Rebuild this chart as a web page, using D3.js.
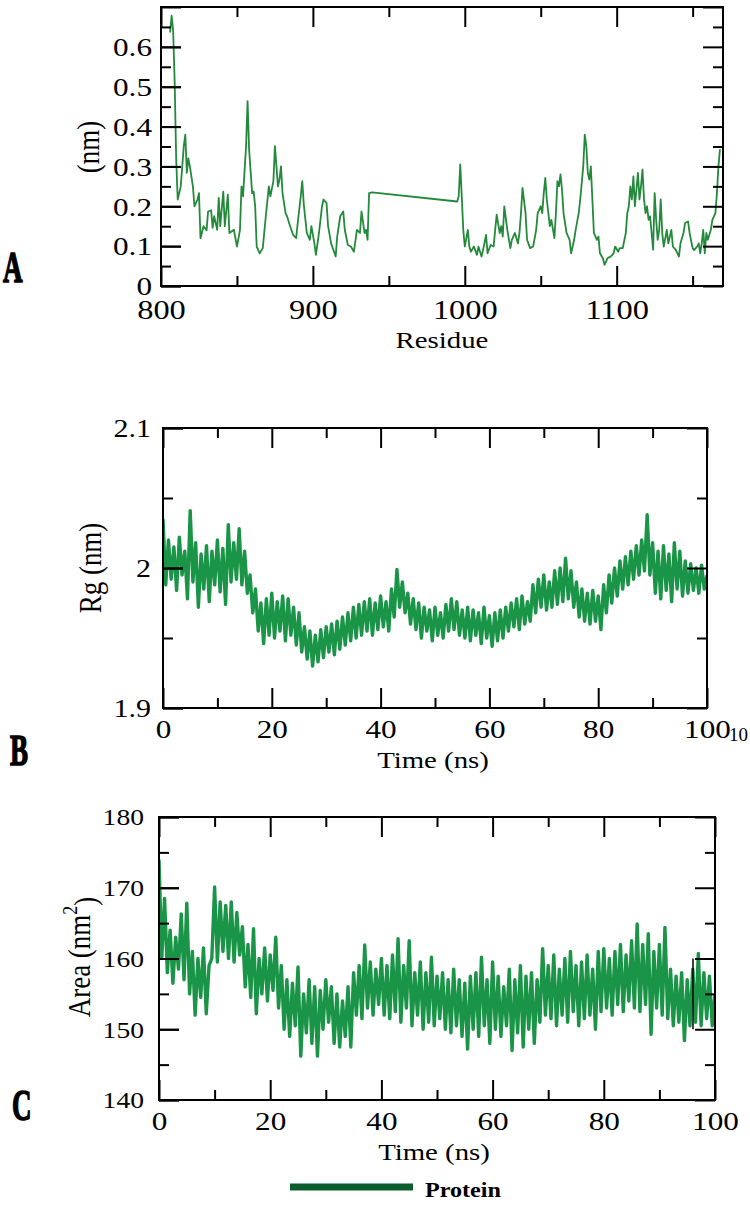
<!DOCTYPE html>
<html><head><meta charset="utf-8">
<script src="https://cdn.jsdelivr.net/npm/d3@7"></script>
<style>body{margin:0;background:#fff}svg{display:block}</style>
</head><body>
<svg id="chart" width="750" height="1208"></svg>
<script>
// ---------- DATA ----------
const rmsfResidue = [806,807,808,809,810,811,813,815,816,817,818,819,821,822,824,825,826,828,830,831,833,834,835,837,838,839,841,842,844,845,848,849,850,852,853,854,856,857,858,860,861,862,863,865,867,869,871,872,874,875,877,878,879,880,882,883,885,887,889,890,892,893,894,896,898,899,901,902,904,906,907,909,910,912,915,916,918,920,921,923,925,927,929,931,932,934,935,936,937,939,
995,996,997,998,999,1000,1002,1003,1004,1006,1008,1009,1011,1012,1014,1015,1017,1019,1020,1021,1023,1024,1025,1026,1028,1030,1031,1033,1035,1036,1037,1038,1040,1041,1043,1045,1047,1048,1050,1051,1052,1053,1054,1056,1057,1059,1060,1061,1062,1063,1064,1065,1067,1069,1070,1072,1073,1075,1076,1078,1079,1080,1081,1082,1083,1084,1085,1087,1088,1089,1091,1092,1094,1096,1098,1099,1101,1102,1104,1106,1107,1108,1109,1110,1111,1112,1114,1115,1116,1117,1118,1119,1120,1121,1122,1124,1125,1126,1127,1128,1129,1130,1131,1133,1134,1136,1137,1139,1141,1142,1144,1145,1147,1148,1150,1151,1153,1154,1155,1156,1157,1158,1159,1160,1162,1163,1165,1166,1167,1168];
const rmsfNm = [0.636,0.678,0.64,0.511,0.317,0.217,0.25,0.351,0.38,0.284,0.32,0.30,0.25,0.2,0.217,0.233,0.12,0.15,0.14,0.187,0.19,0.146,0.175,0.141,0.221,0.15,0.237,0.15,0.229,0.133,0.141,0.12,0.099,0.141,0.25,0.225,0.351,0.464,0.343,0.233,0.237,0.2,0.099,0.082,0.095,0.175,0.25,0.225,0.263,0.351,0.25,0.267,0.30,0.233,0.183,0.175,0.15,0.128,0.12,0.158,0.225,0.263,0.205,0.133,0.116,0.15,0.107,0.078,0.133,0.2,0.217,0.208,0.15,0.107,0.074,0.124,0.175,0.187,0.141,0.103,0.099,0.086,0.141,0.133,0.187,0.133,0.141,0.116,0.233,0.235,
0.212,0.225,0.305,0.225,0.141,0.099,0.141,0.099,0.086,0.099,0.078,0.099,0.074,0.09,0.128,0.082,0.103,0.099,0.141,0.179,0.133,0.15,0.124,0.2,0.141,0.095,0.116,0.133,0.107,0.133,0.183,0.246,0.183,0.116,0.095,0.099,0.141,0.183,0.2,0.183,0.233,0.271,0.217,0.15,0.166,0.12,0.183,0.263,0.25,0.28,0.242,0.183,0.133,0.116,0.082,0.116,0.141,0.183,0.217,0.30,0.38,0.351,0.284,0.267,0.30,0.217,0.133,0.116,0.124,0.082,0.069,0.053,0.07,0.074,0.082,0.099,0.086,0.095,0.095,0.133,0.183,0.2,0.25,0.217,0.275,0.2,0.284,0.217,0.25,0.292,0.217,0.183,0.2,0.166,0.175,0.091,0.233,0.166,0.116,0.141,0.217,0.133,0.099,0.141,0.107,0.141,0.099,0.09,0.074,0.107,0.133,0.158,0.162,0.133,0.095,0.09,0.099,0.107,0.082,0.107,0.141,0.082,0.133,0.116,0.141,0.166,0.183,0.233,0.30,0.343];

const timeStepNs = 0.5;
const rgNm = [2.035,1.988,2.020,1.992,2.015,1.984,2.022,1.995,2.012,1.978,2.041,1.990,2.018,1.972,2.010,1.985,2.016,1.976,2.012,1.988,
2.020,1.983,2.014,1.974,2.031,1.990,2.018,1.992,2.028,1.988,2.012,1.982,1.995,1.968,1.985,1.955,1.975,1.946,1.978,1.952,
1.982,1.950,1.976,1.955,1.980,1.948,1.978,1.952,1.972,1.945,1.968,1.940,1.958,1.935,1.955,1.930,1.952,1.933,1.956,1.936,
1.958,1.940,1.960,1.938,1.962,1.942,1.965,1.945,1.968,1.948,1.972,1.950,1.974,1.952,1.976,1.955,1.978,1.952,1.975,1.956,
1.980,1.958,1.976,1.955,1.985,1.965,1.999,1.972,1.990,1.968,1.982,1.960,1.978,1.956,1.975,1.950,1.972,1.955,1.970,1.948,
1.972,1.952,1.968,1.950,1.974,1.955,1.978,1.956,1.976,1.952,1.970,1.950,1.972,1.948,1.970,1.952,1.968,1.946,1.972,1.950,
1.966,1.944,1.968,1.948,1.970,1.950,1.972,1.955,1.975,1.958,1.978,1.956,1.980,1.960,1.976,1.962,1.988,1.968,1.992,1.972,
1.995,1.970,1.990,1.972,1.998,1.974,2.000,1.976,2.007,1.978,1.998,1.972,1.990,1.965,1.985,1.962,1.982,1.960,1.984,1.962,
1.980,1.956,1.988,1.968,1.995,1.975,2.000,1.980,2.005,1.985,2.008,1.988,2.012,1.992,2.016,1.995,2.020,1.998,2.038,1.995,
2.018,1.982,2.012,1.978,2.016,1.984,2.010,1.976,2.018,1.985,2.012,1.980,2.005,1.982,2.003,1.984,2.000,1.982,2.002,1.985,
1.995];
const areaNm2 = [174.0,160.0,168.5,158.0,164.0,156.5,163.0,158.5,166.3,157.0,167.8,155.0,161.0,152.0,160.0,154.5,161.5,152.2,159.0,160.0,
170.1,159.5,168.0,161.0,167.5,160.0,168.0,159.5,166.5,160.5,164.5,156.0,162.0,154.5,164.2,152.2,160.0,155.0,161.5,154.0,
160.5,155.5,163.0,153.0,159.0,150.0,157.0,149.0,156.5,150.5,158.8,146.2,155.0,149.5,157.0,148.0,156.0,146.2,155.5,150.0,
157.0,151.0,156.0,148.0,155.0,147.5,154.0,149.0,156.0,147.5,158.0,152.0,159.0,151.5,161.9,153.0,159.5,152.0,158.5,153.5,
160.0,152.0,159.0,151.5,160.5,152.5,162.8,151.0,159.0,153.0,162.5,150.5,158.0,152.0,159.5,150.0,158.0,151.0,160.2,150.5,
157.5,151.5,158.0,150.0,157.0,149.5,158.5,150.5,157.0,149.0,156.5,147.2,157.5,150.0,158.0,149.0,160.2,150.5,157.0,148.0,
159.5,150.0,157.5,149.0,156.0,150.5,158.5,147.0,157.0,149.5,159.0,147.5,157.5,150.0,158.0,148.0,157.0,151.0,161.4,152.0,
159.0,151.5,160.5,150.5,158.5,152.0,160.0,151.0,161.0,152.5,159.0,150.5,159.5,151.5,160.5,152.0,158.5,150.0,161.0,152.5,
161.4,153.0,160.0,152.0,161.0,153.5,162.0,152.5,160.5,154.0,162.5,153.0,164.9,152.5,162.0,153.5,163.5,149.3,161.0,153.0,
162.0,152.0,164.4,151.5,158.5,150.5,157.5,151.0,158.0,148.4,157.0,150.5,158.5,151.0,160.7,150.5,158.0,151.5,157.5,150.5,
155.0];

const rmsfXMajor = [800,900,1000,1100], rmsfXMinor = [850,950,1050,1150];
const rmsfYMajor = [0,0.1,0.2,0.3,0.4,0.5,0.6,0.7], rmsfYMinor = [0.05,0.15,0.25,0.35,0.45,0.55,0.65];
const rmsfYLabels = [0,0.1,0.2,0.3,0.4,0.5,0.6];
const timeMajor = [0,20,40,60,80,100], timeMinor = [10,30,50,70,90];
const rgYMajor = [1.9,2.0,2.1], rgYMinor = [1.95,2.05];
const areaYMajor = [140,150,160,170,180], areaYMinor = [145,155,165,175];
const legendLabel = "Protein";

// ---------- DRAWING ----------
const svg = d3.select("#chart");
const SERIF = "Liberation Serif, Times New Roman, serif";
const SX = 1.2;

function panel(cfg) {
  const g = svg.append("g");
  const x = d3.scaleLinear().domain(cfg.xDomain).range([cfg.L, cfg.R]);
  const y = d3.scaleLinear().domain(cfg.yDomain).range([cfg.B, cfg.T]);
  const id = "clip" + cfg.name;
  svg.append("clipPath").attr("id", id).append("rect")
    .attr("x", cfg.L).attr("y", cfg.T).attr("width", cfg.R - cfg.L).attr("height", cfg.B - cfg.T);
  const pts = cfg.xs.map((d, i) => [d, cfg.ys[i]]);
  g.append("path").datum(pts)
    .attr("clip-path", `url(#${id})`)
    .attr("fill", "none").attr("stroke", cfg.color).attr("stroke-width", cfg.lw)
    .attr("stroke-linejoin", "round")
    .attr("d", d3.line().x(d => x(d[0])).y(d => y(d[1])));

  const MAJ = 20, MIN = 10;
  function addAxis(axis, tr) {
    const a = g.append("g").attr("transform", tr).call(axis);
    a.select(".domain").remove();
    a.selectAll(".tick line").attr("stroke", "#000").attr("stroke-width", 2);
    return a;
  }
  const bx = addAxis(d3.axisBottom(x).tickValues(cfg.xMajor).tickSize(-MAJ).tickPadding(0).tickFormat(d3.format("d")), `translate(0,${cfg.B})`);
  bx.selectAll(".tick text").attr("y", cfg.xLabelY).attr("dy", null)
    .style("font-family", SERIF).style("font-size", cfg.xFont + "px").attr("fill", "#000")
    .attr("transform", `scale(${SX},1)`);
  addAxis(d3.axisBottom(x).tickValues(cfg.xMinor).tickSize(-MIN).tickFormat(""), `translate(0,${cfg.B})`);
  addAxis(d3.axisTop(x).tickValues(cfg.xMajor).tickSize(-MAJ).tickFormat(""), `translate(0,${cfg.T})`);
  addAxis(d3.axisTop(x).tickValues(cfg.xMinor).tickSize(-MIN).tickFormat(""), `translate(0,${cfg.T})`);
  const ly = addAxis(d3.axisLeft(y).tickValues(cfg.yLabels).tickSize(-MAJ).tickPadding(0).tickFormat(d3.format("~g")), `translate(${cfg.L},0)`);
  ly.selectAll(".tick text").attr("x", -cfg.yLabelGap / SX).attr("dy", "0.34em")
    .style("font-family", SERIF).style("font-size", cfg.yFont + "px").attr("fill", "#000")
    .attr("transform", `scale(${SX},1)`);
  addAxis(d3.axisLeft(y).tickValues(cfg.yMajor).tickSize(-MAJ).tickFormat(""), `translate(${cfg.L},0)`);
  addAxis(d3.axisLeft(y).tickValues(cfg.yMinor).tickSize(-MIN).tickFormat(""), `translate(${cfg.L},0)`);
  addAxis(d3.axisRight(y).tickValues(cfg.yMajor).tickSize(-MAJ).tickFormat(""), `translate(${cfg.R},0)`);
  addAxis(d3.axisRight(y).tickValues(cfg.yMinor).tickSize(-MIN).tickFormat(""), `translate(${cfg.R},0)`);

  g.append("rect").attr("x", cfg.L).attr("y", cfg.T).attr("width", cfg.R - cfg.L).attr("height", cfg.B - cfg.T)
    .attr("fill", "none").attr("stroke", "#000").attr("stroke-width", 2);

  g.append("text").attr("transform", `translate(${cfg.xTitleX},${cfg.xTitleY}) scale(${SX},1)`)
    .attr("text-anchor", "middle").style("font-family", SERIF).style("font-size", "24px").text(cfg.xTitle);
  const yt = g.append("text").attr("transform", `translate(${cfg.yTitleX},${cfg.yTitleY}) rotate(-90) scale(1,1.15)`)
    .attr("text-anchor", "middle").attr("dy", "0.35em").style("font-family", SERIF).style("font-size", "27px");
  if (cfg.yTitleSup) {
    yt.append("tspan").text(cfg.yTitle);
    yt.append("tspan").attr("dy", "-0.6em").style("font-size", "18px").text(cfg.yTitleSup);
    yt.append("tspan").attr("dy", "0.6em").text(")");
  } else yt.text(cfg.yTitle);
  g.append("text").attr("transform", `translate(${cfg.letterX},${cfg.letterY}) scale(0.6,1)`)
    .style("font-family", SERIF).style("font-weight", "bold").style("font-size", "45px")
    .attr("stroke", "#000").attr("stroke-width", 1.6).text(cfg.name);
  return {x, y, g};
}

panel({name: "A", L: 161, R: 723, T: 7, B: 286, xDomain: [800, 1170], yDomain: [0, 0.7],
  xs: rmsfResidue, ys: rmsfNm, color: "#238a3b", lw: 1.8,
  xMajor: rmsfXMajor, xMinor: rmsfXMinor, yMajor: rmsfYMajor, yMinor: rmsfYMinor, yLabels: rmsfYLabels,
  xFont: 27, xLabelY: 33, yFont: 26, yLabelGap: 9,
  xTitle: "Residue", xTitleX: 442, xTitleY: 348, yTitle: "(nm)", yTitleX: 88, yTitleY: 147,
  letterX: 3, letterY: 282});

const pB = panel({name: "B", L: 163, R: 707, T: 428, B: 708, xDomain: [0, 100], yDomain: [1.9, 2.1],
  xs: rgNm.map((d, i) => i * timeStepNs), ys: rgNm, color: "#1a9447", lw: 3.4,
  xMajor: timeMajor, xMinor: timeMinor, yMajor: rgYMajor, yMinor: rgYMinor, yLabels: rgYMajor,
  xFont: 26, xLabelY: 30, yFont: 25, yLabelGap: 12,
  xTitle: "Time (ns)", xTitleX: 433, xTitleY: 768, yTitle: "Rg (nm)", yTitleX: 90, yTitleY: 568,
  letterX: 10, letterY: 765});
pB.g.append("text").attr("transform", "translate(729,741)")
  .style("font-family", SERIF).style("font-size", "19px").text("10");

const pC = panel({name: "C", L: 159, R: 715, T: 817, B: 1100, xDomain: [0, 100], yDomain: [140, 180],
  xs: areaNm2.map((d, i) => i * timeStepNs), ys: areaNm2, color: "#1a9447", lw: 3.4,
  xMajor: timeMajor, xMinor: timeMinor, yMajor: areaYMajor, yMinor: areaYMinor, yLabels: areaYMajor,
  xFont: 26, xLabelY: 30, yFont: 23, yLabelGap: 15,
  xTitle: "Time (ns)", xTitleX: 434, xTitleY: 1160, yTitle: "Area (nm", yTitleSup: "2", yTitleX: 79, yTitleY: 957,
  letterX: 12, letterY: 1120});
pC.g.append("line").attr("x1", 693).attr("x2", 693).attr("y1", pC.y(160)).attr("y2", pC.y(150))
  .attr("stroke", "#000").attr("stroke-width", 1.5);

const lg = svg.append("g");
lg.append("line").attr("x1", 290).attr("x2", 413).attr("y1", 1187).attr("y2", 1187)
  .attr("stroke", "#0b5e2c").attr("stroke-width", 7);
lg.append("text").attr("transform", "translate(425,1197) scale(1.15,1)")
  .style("font-family", SERIF).style("font-weight", "bold").style("font-size", "21px").text(legendLabel);
</script>
</body></html>
